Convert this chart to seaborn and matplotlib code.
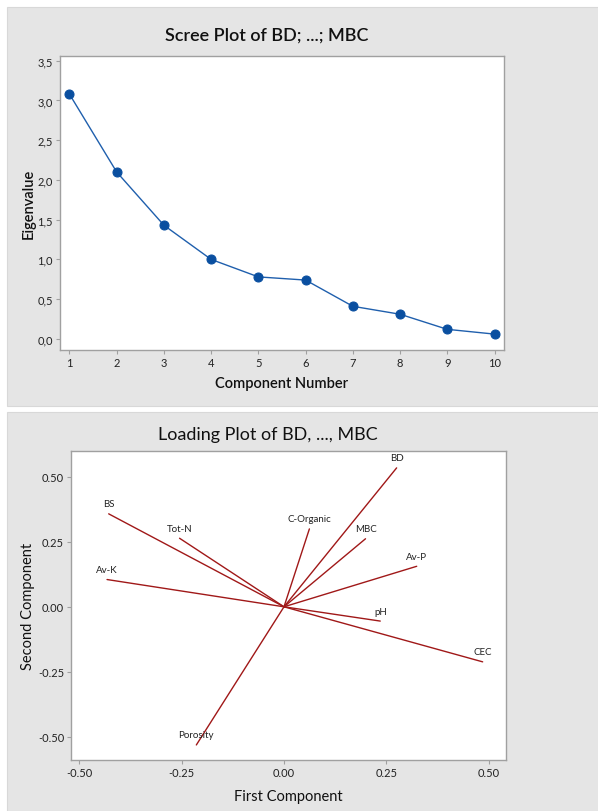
import numpy as np
import pandas as pd
import matplotlib
matplotlib.use('Agg')
import matplotlib.pyplot as plt
from matplotlib.patches import Rectangle
from matplotlib.ticker import FuncFormatter
import seaborn as sns

# --- data ---
components = [1, 2, 3, 4, 5, 6, 7, 8, 9, 10]
eigenvalues = [3.08, 2.10, 1.43, 1.00, 0.78, 0.74, 0.41, 0.31, 0.12, 0.06]

variables = ['BD', 'BS', 'Tot-N', 'C-Organic', 'MBC', 'Av-P', 'Av-K', 'pH', 'CEC', 'Porosity']
pc1 = [0.275, -0.428, -0.255, 0.062, 0.199, 0.324, -0.432, 0.235, 0.485, -0.214]
pc2 = [0.535, 0.358, 0.264, 0.300, 0.262, 0.156, 0.105, -0.055, -0.212, -0.532]

sns.set_theme(style="white")
plt.rcParams['font.family'] = ['Lato', 'DejaVu Sans']

W, H = 598, 812
fig = plt.figure(figsize=(W / 100, H / 100), dpi=100)
fig.patch.set_facecolor('white')

panel = '#e5e5e5'
fig.patches.append(Rectangle((7 / W, 1 - 407 / H), 1, 399 / H, transform=fig.transFigure,
                             facecolor=panel, edgecolor='#d8d8d8', lw=0.8, zorder=-5))
fig.patches.append(Rectangle((7 / W, 0), 1, 1 - 413 / H, transform=fig.transFigure,
                             facecolor=panel, edgecolor='#d8d8d8', lw=0.8, zorder=-5))

spine_col = '#a0a0a0'

def style_axes(ax):
    ax.set_facecolor('white')
    for s in ax.spines.values():
        s.set_color(spine_col)
        s.set_linewidth(1.0)
    ax.tick_params(axis='both', which='both', direction='out', length=3, width=0.8,
                   color=spine_col, labelsize=8, labelcolor='#222222', pad=2,
                   bottom=True, left=True)

# --- Scree plot ---
ax1 = fig.add_axes([60 / W, 1 - 351 / H, 444 / W, 294 / H])
scree = pd.DataFrame({'Component': components, 'Eigenvalue': eigenvalues})
sns.lineplot(data=scree, x='Component', y='Eigenvalue', ax=ax1, color='#1f5fad',
             lw=1.0, marker='o', markersize=6.5, markerfacecolor='#0a4fa0',
             markeredgecolor='#0a4fa0')
ax1.set_xlim(0.80, 10.2)
ax1.set_ylim(-0.14, 3.56)
ax1.set_xticks(components)
ax1.set_yticks(np.arange(0, 3.51, 0.5))
ax1.yaxis.set_major_formatter(FuncFormatter(lambda v, p: f"{v:.1f}".replace('.', ',')))
style_axes(ax1)
ax1.set_xlabel('Component Number', fontsize=10.5, color='#111111', labelpad=6,
               fontweight='semibold')
ax1.set_ylabel('Eigenvalue', fontsize=10.5, color='#111111', labelpad=1,
               fontweight='semibold')
fig.text(267 / W, 1 - 36 / H, 'Scree Plot of BD; ...; MBC', ha='center', va='center',
         fontsize=13, color='#111111', fontweight='semibold')

# --- Loading plot ---
ax2 = fig.add_axes([71 / W, 1 - 761 / H, 435 / W, 309 / H])
rows = []
for v, x, y in zip(variables, pc1, pc2):
    rows.append({'var': v, 'x': 0.0, 'y': 0.0})
    rows.append({'var': v, 'x': x, 'y': y})
load = pd.DataFrame(rows)
sns.lineplot(data=load, x='x', y='y', units='var', estimator=None, sort=False,
             color='#a01818', lw=1.0, ax=ax2)
for v, x, y in zip(variables, pc1, pc2):
    ax2.annotate(v, (x, y), xytext=(0, 4), textcoords='offset points', ha='center',
                 va='bottom', fontsize=7, color='#222222')
ax2.set_xlim(-0.52, 0.542)
ax2.set_ylim(-0.59, 0.60)
ax2.set_xticks([-0.5, -0.25, 0, 0.25, 0.5])
ax2.set_yticks([-0.5, -0.25, 0, 0.25, 0.5])
ax2.xaxis.set_major_formatter(FuncFormatter(lambda v, p: f"{v:.2f}"))
ax2.yaxis.set_major_formatter(FuncFormatter(lambda v, p: f"{v:.2f}"))
style_axes(ax2)
ax2.set_xlabel('First Component', fontsize=10.5, color='#111111', labelpad=8)
ax2.set_ylabel('Second Component', fontsize=10.5, color='#111111', labelpad=2)
fig.text(268 / W, 1 - 435 / H, 'Loading Plot of BD, ..., MBC', ha='center', va='center',
         fontsize=13, color='#111111')

fig.savefig('out.png', dpi=100, facecolor=fig.get_facecolor())
